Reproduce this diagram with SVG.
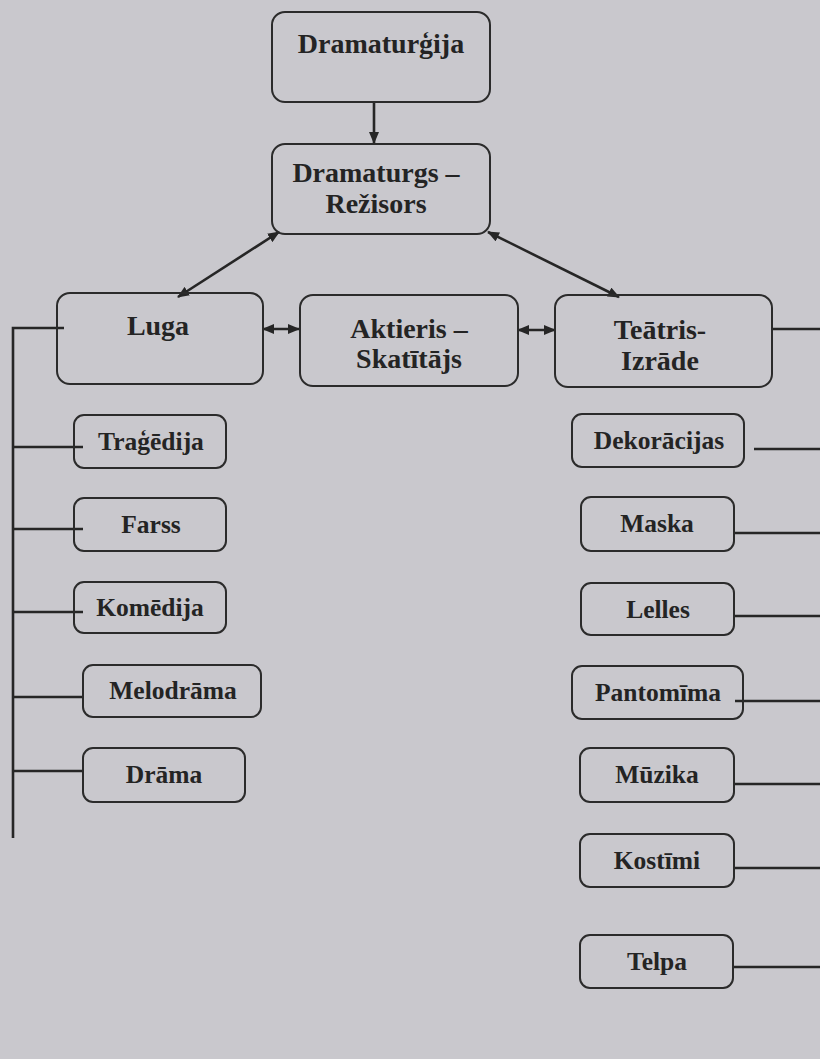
<svg xmlns="http://www.w3.org/2000/svg" width="820" height="1059" viewBox="0 0 820 1059">
<style>
.box{fill:none;stroke:#2b2b2b;stroke-width:2}
.t{font-family:"Liberation Serif","Times New Roman",serif;font-weight:bold;fill:#242424;text-anchor:middle}
.big{font-size:28px}
.sm{font-size:25.5px}
.ln{fill:none;stroke:#262626;stroke-width:2.6}
</style>
<defs>
<marker id="ah" viewBox="0 0 12 10" refX="11" refY="5" markerWidth="12" markerHeight="10" markerUnits="userSpaceOnUse" orient="auto-start-reverse">
<path d="M0,0 L12,5 L0,10 Z" fill="#262626"/>
</marker>
</defs>
<rect width="820" height="1059" fill="#c9c8cd"/>

<g id="connectors">
<line class="ln" x1="374" y1="102" x2="374" y2="143" marker-end="url(#ah)"/>
<line class="ln" x1="178" y1="297" x2="279" y2="232" marker-start="url(#ah)" marker-end="url(#ah)"/>
<line class="ln" x1="619" y1="297" x2="488" y2="232" marker-start="url(#ah)" marker-end="url(#ah)"/>
<line class="ln" x1="263" y1="329" x2="299" y2="329" marker-start="url(#ah)" marker-end="url(#ah)"/>
<line class="ln" x1="518" y1="330" x2="555" y2="330" marker-start="url(#ah)" marker-end="url(#ah)"/>
<polyline class="ln" points="64,328 13,328 13,838"/>
<line class="ln" x1="13" y1="447" x2="83" y2="447"/>
<line class="ln" x1="13" y1="529" x2="83" y2="529"/>
<line class="ln" x1="13" y1="612" x2="83" y2="612"/>
<line class="ln" x1="13" y1="697" x2="83" y2="697"/>
<line class="ln" x1="13" y1="771" x2="83" y2="771"/>
<line class="ln" x1="772" y1="329" x2="820" y2="329"/>
<line class="ln" x1="754" y1="449" x2="820" y2="449"/>
<line class="ln" x1="734" y1="533" x2="820" y2="533"/>
<line class="ln" x1="734" y1="616" x2="820" y2="616"/>
<line class="ln" x1="735" y1="701" x2="820" y2="701"/>
<line class="ln" x1="734" y1="784" x2="820" y2="784"/>
<line class="ln" x1="734" y1="868" x2="820" y2="868"/>
<line class="ln" x1="733" y1="967" x2="820" y2="967"/>
</g>

<g id="dramaturgija">
<rect class="box" x="272" y="12" width="218" height="90" rx="13"/>
<text class="t big" x="381" y="53">Dramaturģija</text>
</g>
<g id="dramaturgs">
<rect class="box" x="272" y="144" width="218" height="90" rx="13"/>
<text class="t big" x="376" y="182">Dramaturgs –</text>
<text class="t big" x="376" y="213">Režisors</text>
</g>
<g id="luga">
<rect class="box" x="57" y="293" width="206" height="91" rx="13"/>
<text class="t big" x="158" y="335">Luga</text>
</g>
<g id="aktieris">
<rect class="box" x="300" y="295" width="218" height="91" rx="13"/>
<text class="t big" x="409" y="338">Aktieris –</text>
<text class="t big" x="409" y="368">Skatītājs</text>
</g>
<g id="teatris">
<rect class="box" x="555" y="295" width="217" height="92" rx="13"/>
<text class="t big" x="660" y="339">Teātris-</text>
<text class="t big" x="660" y="370">Izrāde</text>
</g>

<g id="tragedija">
<rect class="box" x="74" y="415" width="152" height="53" rx="10"/>
<text class="t sm" x="151" y="450">Traģēdija</text>
</g>
<g id="farss">
<rect class="box" x="74" y="498" width="152" height="53" rx="10"/>
<text class="t sm" x="151" y="533">Farss</text>
</g>
<g id="komedija">
<rect class="box" x="74" y="582" width="152" height="51" rx="10"/>
<text class="t sm" x="150" y="616">Komēdija</text>
</g>
<g id="melodrama">
<rect class="box" x="83" y="665" width="178" height="52" rx="10"/>
<text class="t sm" x="173" y="699">Melodrāma</text>
</g>
<g id="drama">
<rect class="box" x="83" y="748" width="162" height="54" rx="10"/>
<text class="t sm" x="164" y="783">Drāma</text>
</g>

<g id="dekoracijas">
<rect class="box" x="572" y="414" width="172" height="53" rx="10"/>
<text class="t sm" x="659" y="449">Dekorācijas</text>
</g>
<g id="maska">
<rect class="box" x="581" y="497" width="153" height="54" rx="10"/>
<text class="t sm" x="657" y="532">Maska</text>
</g>
<g id="lelles">
<rect class="box" x="581" y="583" width="153" height="52" rx="10"/>
<text class="t sm" x="658" y="618">Lelles</text>
</g>
<g id="pantomima">
<rect class="box" x="572" y="666" width="171" height="53" rx="10"/>
<text class="t sm" x="658" y="701">Pantomīma</text>
</g>
<g id="muzika">
<rect class="box" x="580" y="748" width="154" height="54" rx="10"/>
<text class="t sm" x="657" y="783">Mūzika</text>
</g>
<g id="kostimi">
<rect class="box" x="580" y="834" width="154" height="53" rx="10"/>
<text class="t sm" x="657" y="869">Kostīmi</text>
</g>
<g id="telpa">
<rect class="box" x="580" y="935" width="153" height="53" rx="10"/>
<text class="t sm" x="657" y="970">Telpa</text>
</g>
</svg>
